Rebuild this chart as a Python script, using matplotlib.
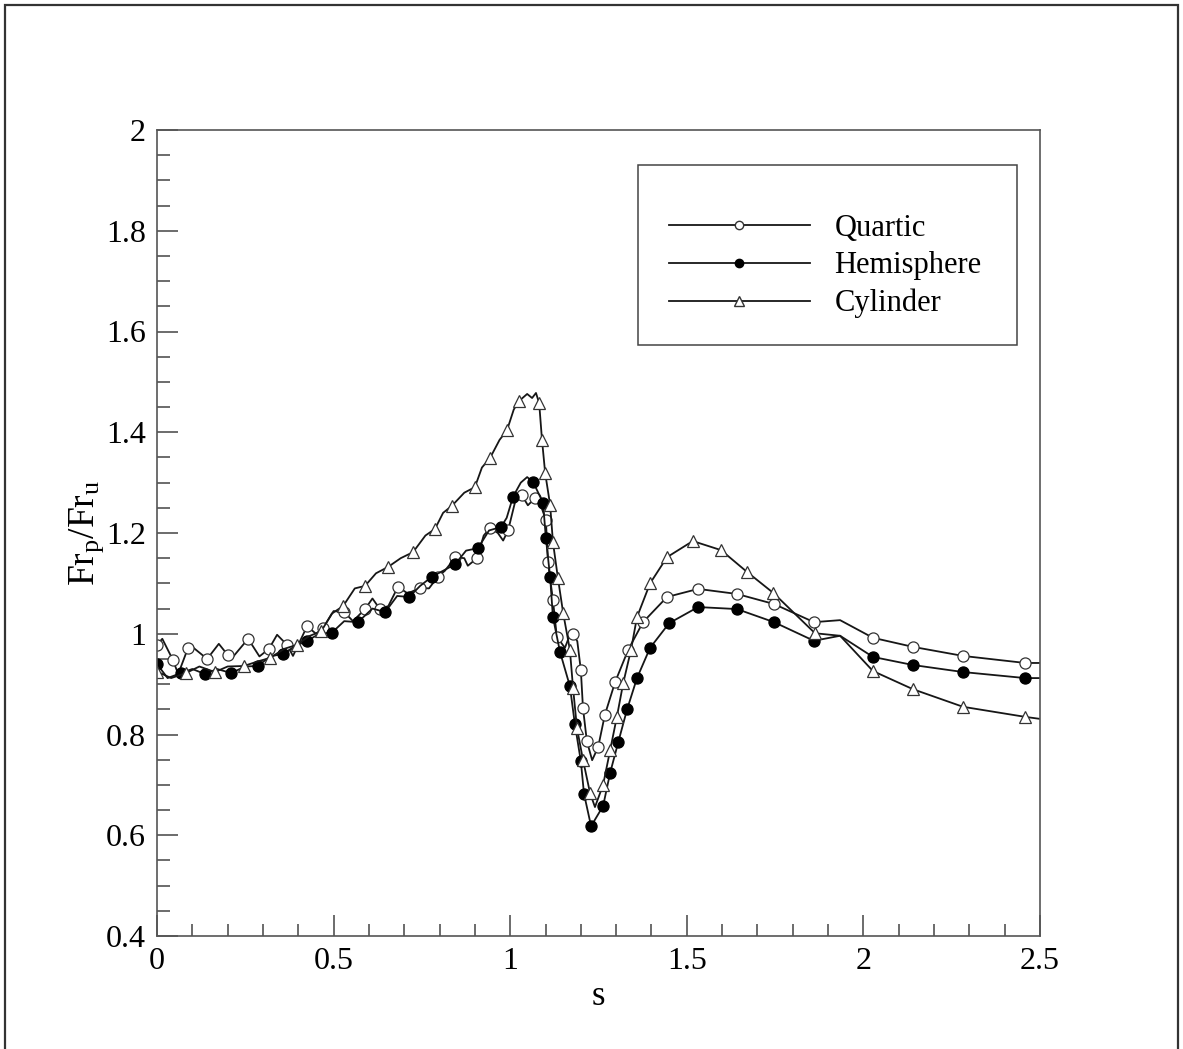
import matplotlib
matplotlib.use("Agg")
import matplotlib.pyplot as plt
from matplotlib.lines import Line2D
from matplotlib.patches import Rectangle
from matplotlib.ticker import MultipleLocator

plt.rcParams["font.family"] = ["Liberation Serif", "DejaVu Serif"]
plt.rcParams["mathtext.fontset"] = "custom"
plt.rcParams["mathtext.rm"] = "Liberation Serif"
plt.rcParams["mathtext.it"] = "Liberation Serif:italic"

# ---- data: arc length s and Froude-number ratio Fr_p/Fr_u ----
series_names = ["Quartic", "Hemisphere", "Cylinder"]

quartic_s = [0.000, 0.015, 0.045, 0.060, 0.088, 0.100, 0.142, 0.175, 0.200, 0.215,
             0.258, 0.290, 0.317, 0.340, 0.368, 0.385, 0.425, 0.450, 0.470, 0.500,
             0.530, 0.555, 0.589, 0.610, 0.631, 0.655, 0.682, 0.710, 0.745, 0.770,
             0.795, 0.815, 0.845, 0.870, 0.880, 0.906, 0.925, 0.943, 0.965, 0.980,
             0.994, 1.015, 1.033, 1.050, 1.070, 1.085, 1.101, 1.107, 1.121, 1.132,
             1.155, 1.170, 1.178, 1.190, 1.200, 1.206, 1.217, 1.232, 1.249, 1.268,
             1.297, 1.334, 1.376, 1.444, 1.532, 1.642, 1.747, 1.860, 1.934, 2.027,
             2.140, 2.282, 2.458, 2.500]
quartic_fr = [0.978, 0.990, 0.948, 0.920, 0.972, 0.974, 0.950, 0.980, 0.958, 0.954,
              0.990, 0.955, 0.970, 0.998, 0.978, 0.956, 1.015, 1.000, 1.011, 1.045,
              1.043, 1.025, 1.049, 1.070, 1.049, 1.055, 1.093, 1.080, 1.091, 1.090,
              1.113, 1.125, 1.152, 1.150, 1.135, 1.150, 1.195, 1.210, 1.200, 1.185,
              1.205, 1.265, 1.275, 1.255, 1.269, 1.258, 1.226, 1.142, 1.067, 0.994,
              0.972, 1.000, 1.000, 0.985, 0.928, 0.853, 0.787, 0.749, 0.775, 0.839,
              0.904, 0.968, 1.023, 1.073, 1.089, 1.079, 1.059, 1.023, 1.027, 0.992,
              0.974, 0.956, 0.942, 0.942]
quartic_mark = [1, 0, 1, 0, 1, 0, 1, 0, 1, 0,
                1, 0, 1, 0, 1, 0, 1, 0, 1, 0,
                1, 0, 1, 0, 1, 0, 1, 0, 1, 0,
                1, 0, 1, 0, 0, 1, 0, 1, 0, 0,
                1, 0, 1, 0, 1, 0, 1, 1, 1, 1,
                0, 0, 1, 0, 1, 1, 1, 0, 1, 1,
                1, 1, 1, 1, 1, 1, 1, 1, 0, 1,
                1, 1, 1, 0]

hemi_s = [0.000, 0.030, 0.068, 0.100, 0.136, 0.170, 0.210, 0.250, 0.286, 0.320,
          0.357, 0.390, 0.425, 0.460, 0.495, 0.530, 0.569, 0.610, 0.646, 0.680,
          0.714, 0.745, 0.778, 0.810, 0.844, 0.875, 0.909, 0.940, 0.974, 0.990,
          1.008, 1.030, 1.048, 1.065, 1.093, 1.101, 1.113, 1.121, 1.141, 1.169,
          1.183, 1.200, 1.209, 1.229, 1.263, 1.283, 1.306, 1.331, 1.359, 1.396,
          1.450, 1.532, 1.642, 1.747, 1.860, 1.934, 2.027, 2.140, 2.282, 2.458,
          2.500]
hemi_fr = [0.940, 0.912, 0.922, 0.930, 0.920, 0.930, 0.922, 0.935, 0.936, 0.955,
           0.960, 0.975, 0.986, 1.000, 1.002, 1.025, 1.023, 1.050, 1.043, 1.075,
           1.073, 1.095, 1.113, 1.125, 1.138, 1.165, 1.170, 1.205, 1.212, 1.230,
           1.272, 1.300, 1.311, 1.301, 1.260, 1.190, 1.113, 1.033, 0.964, 0.896,
           0.821, 0.747, 0.682, 0.618, 0.658, 0.724, 0.785, 0.850, 0.912, 0.972,
           1.021, 1.053, 1.049, 1.023, 0.986, 0.996, 0.954, 0.938, 0.924, 0.912,
           0.912]
hemi_mark = [1, 0, 1, 0, 1, 0, 1, 0, 1, 0,
             1, 0, 1, 0, 1, 0, 1, 0, 1, 0,
             1, 0, 1, 0, 1, 0, 1, 0, 1, 0,
             1, 0, 0, 1, 1, 1, 1, 1, 1, 1,
             1, 1, 1, 1, 1, 1, 1, 1, 1, 1,
             1, 1, 1, 1, 1, 0, 1, 1, 1, 1,
             0]

cyl_s = [0.000, 0.040, 0.082, 0.120, 0.164, 0.200, 0.246, 0.285, 0.320, 0.360,
         0.396, 0.430, 0.465, 0.495, 0.527, 0.560, 0.589, 0.620, 0.655, 0.690,
         0.725, 0.760, 0.787, 0.810, 0.835, 0.870, 0.900, 0.920, 0.943, 0.970,
         0.991, 1.010, 1.025, 1.048, 1.062, 1.073, 1.082, 1.090, 1.099, 1.113,
         1.121, 1.135, 1.150, 1.169, 1.178, 1.189, 1.206, 1.226, 1.240, 1.263,
         1.283, 1.302, 1.320, 1.342, 1.359, 1.396, 1.444, 1.517, 1.597, 1.670,
         1.745, 1.863, 1.934, 2.027, 2.140, 2.282, 2.458, 2.500]
cyl_fr = [0.925, 0.912, 0.922, 0.935, 0.924, 0.935, 0.936, 0.945, 0.952, 0.970,
          0.978, 0.995, 1.005, 1.040, 1.055, 1.090, 1.095, 1.120, 1.133, 1.150,
          1.162, 1.195, 1.208, 1.240, 1.254, 1.280, 1.291, 1.330, 1.349, 1.385,
          1.404, 1.445, 1.462, 1.476, 1.468, 1.478, 1.458, 1.385, 1.319, 1.256,
          1.182, 1.111, 1.041, 0.968, 0.892, 0.813, 0.750, 0.684, 0.656, 0.700,
          0.769, 0.835, 0.902, 0.968, 1.033, 1.100, 1.152, 1.184, 1.166, 1.123,
          1.081, 1.001, 0.996, 0.926, 0.890, 0.855, 0.835, 0.831]
cyl_mark = [1, 0, 1, 0, 1, 0, 1, 0, 1, 0,
            1, 0, 1, 0, 1, 0, 1, 0, 1, 0,
            1, 0, 1, 0, 1, 0, 1, 0, 1, 0,
            1, 0, 1, 0, 0, 0, 1, 1, 1, 1,
            1, 1, 1, 1, 1, 1, 1, 1, 0, 1,
            1, 1, 1, 1, 1, 1, 1, 1, 1, 1,
            1, 1, 0, 1, 1, 1, 1, 0]

x_ticks = [0, 0.5, 1, 1.5, 2, 2.5]
x_tick_labels = ["0", "0.5", "1", "1.5", "2", "2.5"]
y_ticks = [0.4, 0.6, 0.8, 1.0, 1.2, 1.4, 1.6, 1.8, 2.0]
y_tick_labels = ["0.4", "0.6", "0.8", "1", "1.2", "1.4", "1.6", "1.8", "2"]

# ---- figure ----
W, H = 1183, 1049
fig = plt.figure(figsize=(W / 100, H / 100), dpi=100)
fig.patch.set_facecolor("white")

# outer frame of the figure panel
fig.patches.append(Rectangle((5 / W, -0.02), (1178 - 5) / W, 1.02 - 5 / H,
                             transform=fig.transFigure, fill=False,
                             edgecolor="#333333", linewidth=1.6))

ax_left, ax_right, ax_top, ax_bottom = 157, 1040, 130, 936
ax = fig.add_axes([ax_left / W, (H - ax_bottom) / H,
                   (ax_right - ax_left) / W, (ax_bottom - ax_top) / H])

def px_to_axes(px, py):
    return ((px - ax_left) / (ax_right - ax_left),
            (ax_bottom - py) / (ax_bottom - ax_top))

line_kw = dict(color="#161616", linewidth=1.3, markeredgewidth=0.9)

def marked(flags):
    return [i for i, f in enumerate(flags) if f]

ax.plot(quartic_s, quartic_fr, marker="o", markersize=8, markerfacecolor="white",
        markeredgecolor="#333333", markevery=marked(quartic_mark), **line_kw)
ax.plot(hemi_s, hemi_fr, marker="o", markersize=8, markerfacecolor="black",
        markeredgecolor="black", markevery=marked(hemi_mark), **line_kw)
ax.plot(cyl_s, cyl_fr, marker="^", markersize=9, markerfacecolor="white",
        markeredgecolor="#333333", markevery=marked(cyl_mark), **line_kw)

ax.set_xlim(0, 2.5)
ax.set_ylim(0.4, 2.0)
ax.set_xticks(x_ticks)
ax.set_xticklabels(x_tick_labels)
ax.set_yticks(y_ticks)
ax.set_yticklabels(y_tick_labels)
ax.xaxis.set_minor_locator(MultipleLocator(0.1))
ax.yaxis.set_minor_locator(MultipleLocator(0.05))
ax.tick_params(which="both", direction="in", top=False, right=False,
               color="#444444", width=1.1, labelsize=23, labelcolor="black")
ax.tick_params(which="major", length=15, pad=8)
ax.tick_params(which="minor", length=9)
for sp in ax.spines.values():
    sp.set_color("#555555")
    sp.set_linewidth(1.2)

ax.set_xlabel("s", fontsize=25, labelpad=3)
ax.set_ylabel(r"Fr$_\mathregular{p}$/Fr$_\mathregular{u}$", fontsize=27, labelpad=0)

# legend box drawn as its own rectangle, entries placed inside it
bx0, by0 = px_to_axes(638, 345)
bx1, by1 = px_to_axes(1017, 165)
ax.add_patch(Rectangle((bx0, by0), bx1 - bx0, by1 - by0, transform=ax.transAxes,
                       fill=False, edgecolor="#444444", linewidth=1.1, zorder=5))

handles = [
    Line2D([], [], color="#161616", lw=1.3, marker="o", ms=6, mfc="white", mec="#333333"),
    Line2D([], [], color="#161616", lw=1.3, marker="o", ms=6, mfc="black", mec="black"),
    Line2D([], [], color="#161616", lw=1.3, marker="^", ms=7, mfc="white", mec="#333333"),
]
lx, ly = px_to_axes(669, 266)
leg = ax.legend(handles, series_names, loc="center left", bbox_to_anchor=(lx, ly),
                fontsize=22, numpoints=1, handlelength=4.6, handletextpad=0.82,
                borderpad=0.0, labelspacing=0.28, borderaxespad=0.0,
                frameon=False)

fig.savefig("out.png", dpi=100, facecolor="white")
